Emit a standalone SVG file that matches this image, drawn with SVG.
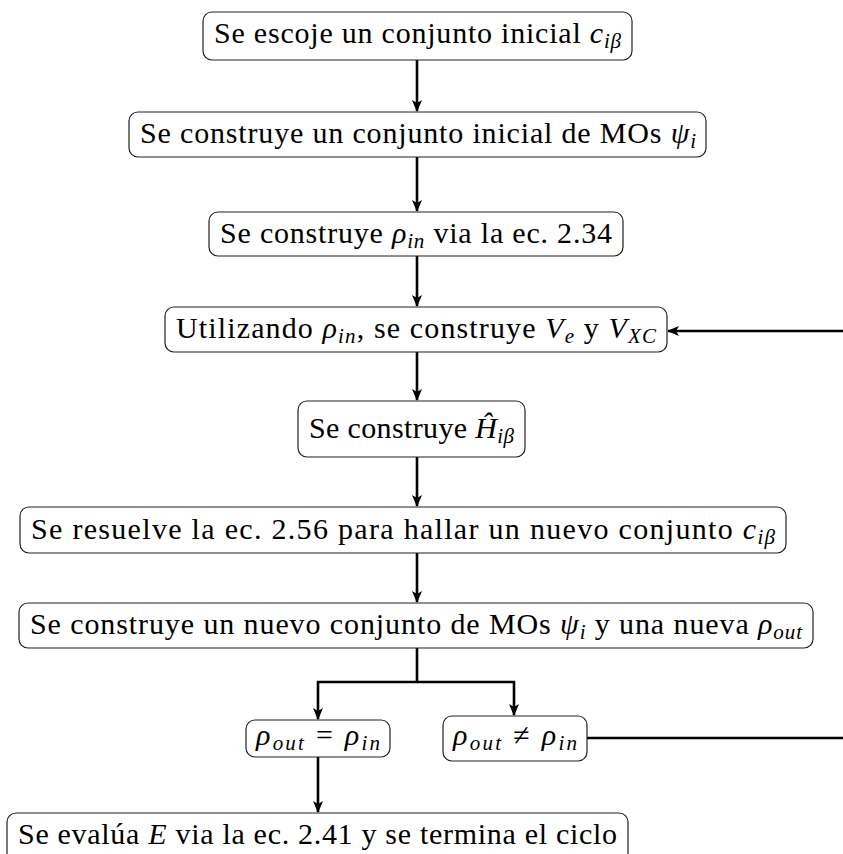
<svg xmlns="http://www.w3.org/2000/svg" width="843" height="854" viewBox="0 0 843 854">
<style>
  .box { fill: #ffffff; stroke: #222222; stroke-width: 1.2; }
  .t { font-family: "Liberation Serif", "Times New Roman", serif; font-size: 30px; fill: #000000; }
  .m { font-style: italic; }
  .s { font-size: 21px; font-style: italic; }
  .c { fill: none; stroke: #000000; stroke-width: 2.6; }
</style>
<defs>
  <marker id="arr" viewBox="0 0 12 10" refX="11" refY="5" markerWidth="12" markerHeight="10" markerUnits="userSpaceOnUse" orient="auto">
    <path d="M0,0 L12,5 L0,10 L3,5 Z" fill="#000000"/>
  </marker>
</defs>
<rect width="843" height="854" fill="#ffffff"/>
<g id="connectors">
  <line class="c" x1="417" y1="60" x2="417" y2="111" marker-end="url(#arr)"/>
  <line class="c" x1="417" y1="157" x2="417" y2="211" marker-end="url(#arr)"/>
  <line class="c" x1="417" y1="256" x2="417" y2="306" marker-end="url(#arr)"/>
  <line class="c" x1="417" y1="352" x2="417" y2="400" marker-end="url(#arr)"/>
  <line class="c" x1="417" y1="457" x2="417" y2="506" marker-end="url(#arr)"/>
  <line class="c" x1="417" y1="553" x2="417" y2="602" marker-end="url(#arr)"/>
  <polyline class="c" points="417,648 417,682 318,682 318,719" marker-end="url(#arr)"/>
  <polyline class="c" points="417,682 514,682 514,715" marker-end="url(#arr)"/>
  <line class="c" x1="318" y1="757" x2="318" y2="812" marker-end="url(#arr)"/>
  <line class="c" x1="587" y1="738" x2="843" y2="738"/>
  <line class="c" x1="843" y1="331" x2="668" y2="331" marker-end="url(#arr)"/>
</g>
<g id="n1">
  <rect class="box" x="203" y="12" width="429" height="48" rx="9"/>
  <text class="t" x="214" y="43" textLength="407">Se escoje un conjunto inicial <tspan class="m">c</tspan><tspan class="s" dy="5">iβ</tspan></text>
</g>
<g id="n2">
  <rect class="box" x="129" y="112" width="577" height="45" rx="9"/>
  <text class="t" x="140" y="143" textLength="556">Se construye un conjunto inicial de MOs <tspan class="m">ψ</tspan><tspan class="s" dy="5">i</tspan></text>
</g>
<g id="n3">
  <rect class="box" x="209" y="212" width="414" height="44" rx="9"/>
  <text class="t" x="220" y="243" textLength="392">Se construye <tspan class="m">ρ</tspan><tspan class="s" dy="5">in</tspan><tspan dy="-5"> via la ec. 2.34</tspan></text>
</g>
<g id="n4">
  <rect class="box" x="165" y="307" width="502" height="45" rx="9"/>
  <text class="t" x="176" y="338" textLength="480">Utilizando <tspan class="m">ρ</tspan><tspan class="s" dy="5">in</tspan><tspan dy="-5">, se construye </tspan><tspan class="m">V</tspan><tspan class="s" dy="5">e</tspan><tspan dy="-5"> y </tspan><tspan class="m">V</tspan><tspan class="s" dy="5">XC</tspan></text>
</g>
<g id="n5">
  <rect class="box" x="298" y="401" width="227" height="56" rx="9"/>
  <text class="t" x="309" y="438" textLength="205">Se construye <tspan class="m">Ĥ</tspan><tspan class="s" dy="5">iβ</tspan></text>
</g>
<g id="n6">
  <rect class="box" x="20" y="507" width="766" height="46" rx="9"/>
  <text class="t" x="31" y="539" textLength="744">Se resuelve la ec. 2.56 para hallar un nuevo conjunto <tspan class="m">c</tspan><tspan class="s" dy="5">iβ</tspan></text>
</g>
<g id="n7">
  <rect class="box" x="19" y="603" width="794" height="45" rx="9"/>
  <text class="t" x="30" y="634" textLength="772">Se construye un nuevo conjunto de MOs <tspan class="m">ψ</tspan><tspan class="s" dy="5">i</tspan><tspan dy="-5"> y una nueva </tspan><tspan class="m">ρ</tspan><tspan class="s" dy="5">out</tspan></text>
</g>
<g id="n8">
  <rect class="box" x="246" y="720" width="144" height="37" rx="9"/>
  <text class="t" x="256" y="745" textLength="124"><tspan class="m">ρ</tspan><tspan class="s" dy="5">out</tspan><tspan dy="-5"> = </tspan><tspan class="m">ρ</tspan><tspan class="s" dy="5">in</tspan></text>
</g>
<g id="n9">
  <rect class="box" x="443" y="716" width="144" height="45" rx="9"/>
  <text class="t" x="453" y="745" textLength="124"><tspan class="m">ρ</tspan><tspan class="s" dy="5">out</tspan><tspan dy="-5"> ≠ </tspan><tspan class="m">ρ</tspan><tspan class="s" dy="5">in</tspan></text>
</g>
<g id="n10">
  <rect class="box" x="7" y="813" width="621" height="60" rx="9"/>
  <text class="t" x="18" y="844" textLength="599">Se evalúa <tspan class="m">E</tspan> via la ec. 2.41 y se termina el ciclo</text>
</g>
</svg>
